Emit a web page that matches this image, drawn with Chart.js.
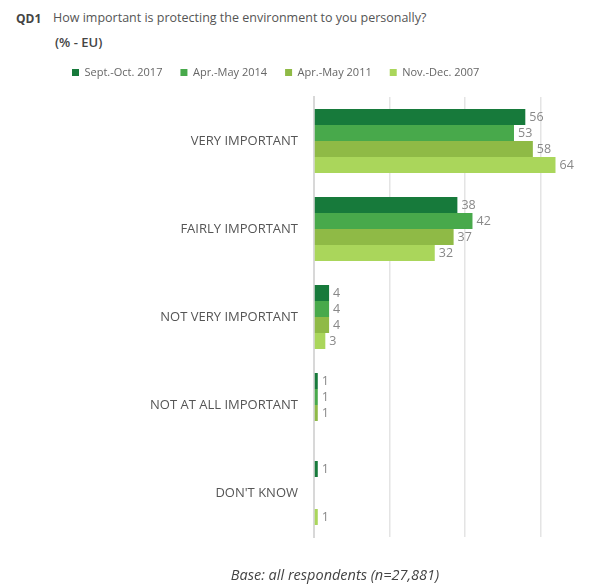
<!DOCTYPE html>
<html>
<head>
<meta charset="utf-8">
<script src="https://cdn.jsdelivr.net/npm/chart.js@4.4.1/dist/chart.umd.min.js"></script>
<style>
  html, body { margin: 0; padding: 0; background: #fff; }
  body { width: 611px; height: 585px; position: relative; overflow: hidden; font-family: 'Open Sans', sans-serif; color: #555; }
  #chart-wrap { position: absolute; left: 0; top: 0; width: 611px; height: 585px; }
  .txt { position: absolute; white-space: nowrap; }
  #qcode { left: 16px; top: 10px; font-size: 12px; font-weight: bold; color: #444; }
  #question { left: 53px; top: 9px; font-size: 12.5px; color: #555; }
  #unit { left: 55px; top: 33px; font-size: 13px; font-weight: 600; color: #444; }
  #base { left: 0; width: 670px; text-align: center; top: 565px; font-size: 14.5px; font-style: italic; color: #444; }
</style>
</head>
<body>
<div class="txt" id="qcode">QD1</div>
<div class="txt" id="question">How important is protecting the environment to you personally?</div>
<div class="txt" id="unit">(% - EU)</div>
<div id="chart-wrap"><canvas id="chart"></canvas></div>
<div class="txt" id="base">Base: all respondents (n=27,881)</div>
<script>
const categories = ['VERY IMPORTANT', 'FAIRLY IMPORTANT', 'NOT VERY IMPORTANT', 'NOT AT ALL IMPORTANT', "DON'T KNOW"];
const seriesNames = ['Sept.-Oct. 2017', 'Apr.-May 2014', 'Apr.-May 2011', 'Nov.-Dec. 2007'];
const wave2017 = [56, 38, 4, 1, 1];
const wave2014 = [53, 42, 4, 1, null];
const wave2011 = [58, 37, 4, 1, null];
const wave2007 = [64, 32, 3, null, 1];
const colors = ['#177a3b', '#48a94b', '#8fba46', '#aad65b'];

// legend sits left of centre in the original
const legendShift = {
    id: 'legendShift',
    beforeInit(chart) {
        const fit = chart.legend.fit;
        chart.legend.fit = function () {
            fit.bind(chart.legend)();
            this.height = 48;
        };
    },
    afterLayout(chart) {
        chart.legend.left = 54;
    }
};

// value labels at the end of each bar
const valueLabels = {
    id: 'valueLabels',
    afterDatasetsDraw(chart) {
        const ctx = chart.ctx;
        ctx.save();
        ctx.font = '12.5px "Open Sans", sans-serif';
        ctx.fillStyle = '#888';
        ctx.textAlign = 'left';
        ctx.textBaseline = 'middle';
        chart.data.datasets.forEach((ds, i) => {
            const meta = chart.getDatasetMeta(i);
            meta.data.forEach((bar, j) => {
                if (ds.data[j] == null) return;
                ctx.fillText(ds.data[j], bar.x + 4, bar.y);
            });
        });
        ctx.restore();
    }
};

const values = [wave2017, wave2014, wave2011, wave2007];

new Chart(document.getElementById('chart'), {
    type: 'bar',
    data: {
        labels: categories,
        datasets: seriesNames.map((name, i) => ({
            label: name,
            data: values[i],
            backgroundColor: colors[i],
            borderWidth: 0,
            categoryPercentage: 0.727,
            barPercentage: 1
        }))
    },
    options: {
        indexAxis: 'y',
        responsive: true,
        maintainAspectRatio: false,
        animation: false,
        layout: { padding: { top: 49, left: 0, right: 14, bottom: 48 } },
        plugins: {
            legend: {
                align: 'start',
                labels: {
                    boxWidth: 7,
                    boxHeight: 7,
                    padding: 18,
                    color: '#666',
                    font: { family: 'Open Sans', size: 11 }
                }
            },
            tooltip: { enabled: false }
        },
        scales: {
            x: {
                min: 0,
                max: 75,
                ticks: { display: false, stepSize: 20 },
                border: { display: false },
                grid: {
                    drawTicks: false,
                    lineWidth: 1.5,
                    color: (c) => (c.tick && c.tick.value > 0 && c.tick.value % 20 === 0) ? '#e4e4e4' : 'rgba(0,0,0,0)'
                },
                afterFit(scale) { scale.height = 0; }
            },
            y: {
                grid: { display: false, drawTicks: false },
                border: { color: '#d8d8d8', width: 2 },
                ticks: {
                    padding: 16,
                    color: '#555',
                    font: { family: 'Open Sans', size: 13 }
                },
                afterFit(scale) { scale.width = 314; }
            }
        }
    },
    plugins: [legendShift, valueLabels]
});
</script>
</body>
</html>
